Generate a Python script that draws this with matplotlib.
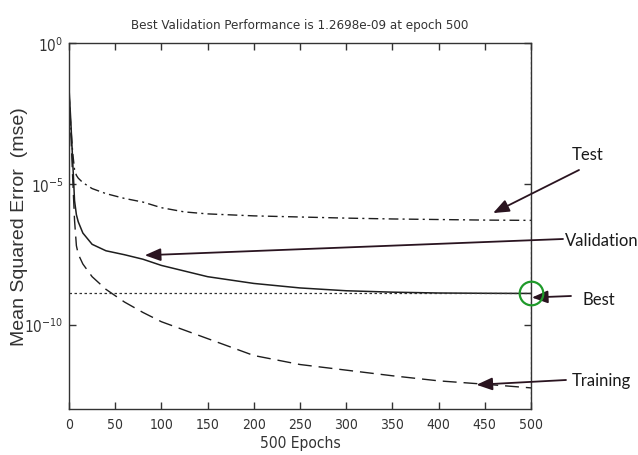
import numpy as np
import matplotlib
matplotlib.use('Agg')
import matplotlib.pyplot as plt
from matplotlib import font_manager

# values (log10 of mse)
epochs = [0, 2, 4, 6, 8, 10, 15, 25, 40, 60, 80, 100, 125, 150, 200, 250, 300, 350, 400, 450, 500]
train_log = [-1.7, -3.2, -4.8, -6.3, -7.2, -7.5, -7.85, -8.3, -8.75, -9.2, -9.57, -9.9, -10.2, -10.5,
             -11.1, -11.42, -11.62, -11.82, -12.0, -12.12, -12.25]
val_log = [-1.6, -2.8, -4.2, -5.6, -6.1, -6.35, -6.75, -7.15, -7.38, -7.52, -7.68, -7.9, -8.1, -8.3,
           -8.54, -8.7, -8.8, -8.85, -8.88, -8.89, -8.896]
test_log = [-1.8, -3.0, -3.9, -4.5, -4.7, -4.8, -4.96, -5.17, -5.35, -5.52, -5.65, -5.85, -6.0, -6.07,
            -6.14, -6.18, -6.22, -6.25, -6.27, -6.29, -6.3]

best_epoch = 500
best_perf = 1.2698e-09

# annotation labels and where their arrows point (epoch, log10 mse)
ann_labels = ['Test', 'Validation', 'Best', 'Training']
ann_tips = [(459, -6.04), (82, -7.54), (501, -9.04), (441, -12.14)]

x_ticks = [0, 50, 100, 150, 200, 250, 300, 350, 400, 450, 500]
y_ticks = [1e0, 1e-5, 1e-10]
y_ticklabels = ['10$^{0}$', '10$^{-5}$', '10$^{-10}$']

W, H = 638, 456

# pick a narrow sans if one is around
fonts = font_manager.fontManager.ttflist
names = {f.name for f in fonts}
stretch = 'normal'
if 'Liberation Sans Narrow' in names:
    narrow = 'Liberation Sans Narrow'
elif any(f.name == 'DejaVu Sans' and 'ondensed' in str(f.stretch) for f in fonts) or 'DejaVu Sans Condensed' in names:
    narrow = 'DejaVu Sans Condensed' if 'DejaVu Sans Condensed' in names else 'DejaVu Sans'
    stretch = 'condensed'
else:
    narrow = None
if narrow:
    plt.rcParams['font.family'] = [narrow, 'DejaVu Sans']
    plt.rcParams['font.stretch'] = stretch
    fs_tick, fs_title, fs_lab = 10, 9.5, 11.2
else:
    plt.rcParams['font.family'] = ['Liberation Sans', 'DejaVu Sans']
    fs_tick, fs_title, fs_lab = 10.5, 10, 12

fig = plt.figure(figsize=(W / 100, H / 100), dpi=100)
ax = fig.add_axes([69 / W, 1 - 410 / H, (531 - 69) / W, (410 - 44) / H])

line_c = '#1e1e1e'
ax.semilogy(epochs, 10 ** np.array(test_log), color=line_c, lw=1.0, ls=(0, (7, 3, 1.5, 3)))
ax.semilogy(epochs, 10 ** np.array(val_log), color=line_c, lw=1.1, ls='-')
ax.semilogy(epochs, 10 ** np.array(train_log), color=line_c, lw=1.0, ls=(0, (10, 5)))

ax.axhline(best_perf, color='#333333', lw=0.9, ls=(0, (2, 2)))
ax.axvline(best_epoch, color='#333333', lw=0.9, ls=(0, (2, 2)))
ax.plot([best_epoch], [best_perf], 'o', ms=17, mfc='none', mec='#1f9a2a', mew=1.6, clip_on=False, zorder=5)

ax.set_xlim(0, 500)
ax.set_ylim(1e-13, 1)
ax.set_xticks(x_ticks)
ax.set_xticklabels([str(t) for t in x_ticks], fontsize=fs_tick, color='#333333')
ax.set_yticks(y_ticks)
ax.set_yticklabels(y_ticklabels, fontsize=fs_tick + 1, color='#333333')
ax.minorticks_off()
ax.tick_params(direction='in', length=5, width=1, top=True, right=True, pad=6, colors='#333333')
ax.tick_params(axis='y', pad=4)
for s in ax.spines.values():
    s.set_color('#333333')
    s.set_linewidth(1.0)

ax.set_title('Best Validation Performance is %.4e at epoch %d' % (best_perf, best_epoch),
             fontsize=fs_title, color='#333333', pad=11)
ax.set_xlabel('500 Epochs', fontsize=fs_lab, color='#333333', labelpad=3)
ax.set_ylabel('Mean Squared Error  (mse)', fontsize=14, color='#333333',
              family=['Liberation Sans', 'DejaVu Sans'], stretch='normal')
ax.yaxis.set_label_coords(-41 / 462, 0.5)

# annotation arrows and labels (pixel positions of label/arrow tail)
tails = [(579, 171), (563, 240), (571, 297), (566, 381)]
text_pos = [(572, 155), (565, 241), (582, 300), (572, 381)]
arrow_c = '#2a1420'
for lab, tip, tail, tp in zip(ann_labels, ann_tips, tails, text_pos):
    ax.annotate('', xy=(tip[0], 10 ** tip[1]), xycoords='data',
                xytext=(tail[0] / W, 1 - tail[1] / H), textcoords='figure fraction',
                arrowprops=dict(arrowstyle='-|>,head_length=0.8,head_width=0.32', color=arrow_c,
                                lw=1.3, shrinkA=0, shrinkB=0, mutation_scale=12),
                annotation_clip=False)
    fig.text(tp[0] / W, 1 - tp[1] / H, lab, fontsize=12, va='center', ha='left',
             family=['Lato', 'DejaVu Sans'], stretch='normal', color='#1a1a1a')

fig.savefig('out.png', dpi=100)
